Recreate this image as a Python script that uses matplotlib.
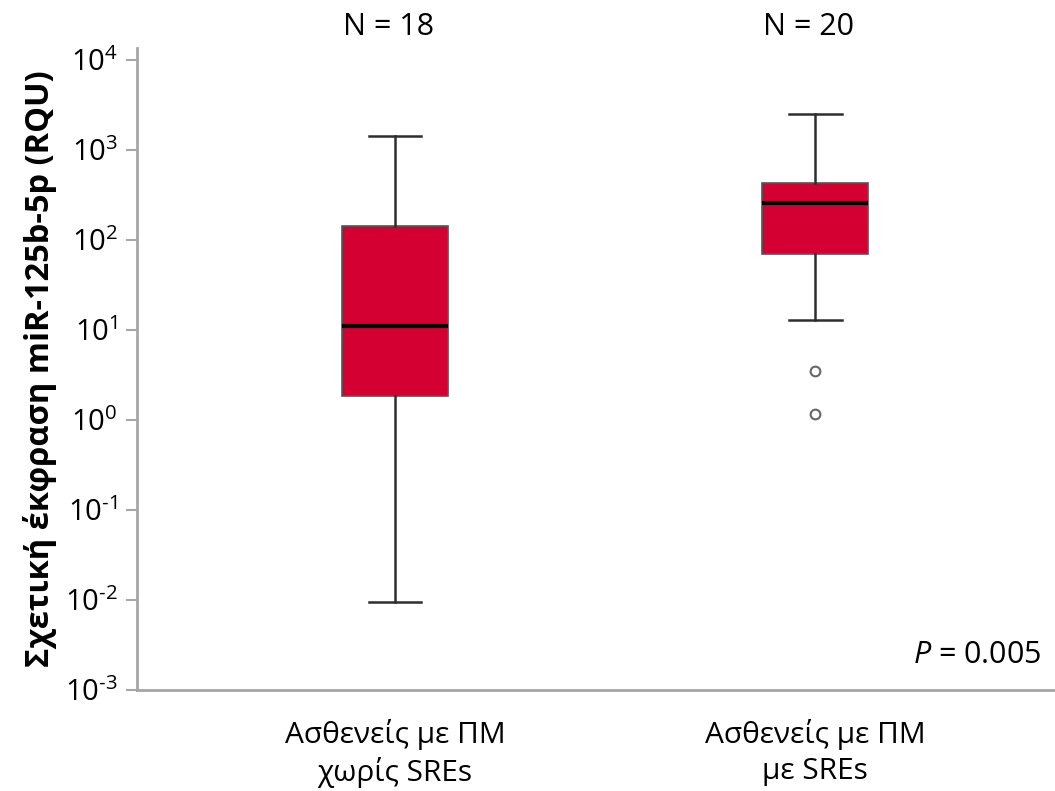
import numpy as np
import matplotlib.pyplot as plt
from matplotlib.ticker import FuncFormatter

plt.rcParams['font.family'] = ['Open Sans', 'DejaVu Sans']
plt.rcParams['mathtext.fontset'] = 'custom'
plt.rcParams['mathtext.rm'] = 'Open Sans'
plt.rcParams['mathtext.it'] = 'Open Sans:italic'

# box summaries (RQU), read group by group
groups = ['Ασθενείς με ΠΜ\nχωρίς SREs', 'Ασθενείς με ΠΜ\nμε SREs']
n_counts = [18, 20]
whisker_low = [0.0096, 12.7]
q1 = [1.85, 68.7]
medians = [11.1, 258]
q3 = [143, 430]
whisker_high = [1431, 2512]
outliers = [[], [3.53, 1.17]]
decades = list(range(-3, 5))
p_value = '0.005'

box_red = '#D50032'
edge_grey = '#2e2e2e'
spine_grey = '#a6a6a6'

stats = []
for i in range(len(groups)):
    stats.append({'whislo': whisker_low[i], 'q1': q1[i], 'med': medians[i],
                  'q3': q3[i], 'whishi': whisker_high[i], 'fliers': outliers[i]})


def decade_label(v, pos):
    # plain hyphen in the exponent rather than the long math minus
    e = int(round(np.log10(v)))
    exp = str(e).replace('-', '\\text{-}')
    return '$\\mathdefault{10^{%s}}$' % exp


fig = plt.figure(figsize=(10.55, 7.91), dpi=100)
ax = fig.add_axes([0.1299, 0.1277, 0.8701, 0.8116])

positions = [1, 2]
ax.bxp(stats, positions=positions, widths=0.252, patch_artist=True,
       boxprops=dict(facecolor=box_red, edgecolor='#555555', linewidth=1.2),
       medianprops=dict(color='black', linewidth=3),
       whiskerprops=dict(color=edge_grey, linewidth=1.8),
       capprops=dict(color=edge_grey, linewidth=1.8),
       capwidths=0.126,
       flierprops=dict(marker='o', markersize=7, markerfacecolor='white',
                       markeredgecolor='#666666', markeredgewidth=1.5))

ax.set_yscale('log')
ax.set_ylim(1e-3, 10 ** 4.13)
ax.set_xlim(0.386, 2.571)
ax.set_yticks([10.0 ** k for k in decades])
ax.yaxis.set_minor_locator(plt.NullLocator())
ax.yaxis.set_major_formatter(FuncFormatter(decade_label))

ax.set_xticks(positions)
ax.set_xticklabels(groups, fontsize=21.5, linespacing=1.3)
ax.tick_params(axis='x', length=0, pad=21)
ax.tick_params(axis='y', length=8, width=1.5, color=spine_grey,
               labelsize=21, pad=6)

for side in ['top', 'right']:
    ax.spines[side].set_visible(False)
for side in ['left', 'bottom']:
    ax.spines[side].set_color(spine_grey)
    ax.spines[side].set_linewidth(2)

ax.set_ylabel('Σχετική έκφραση miR-125b-5p (RQU)', fontsize=23.5,
              fontweight='bold', labelpad=6)

# group sizes above each box
for x, n in zip(positions, n_counts):
    ax.text(x - 0.015, 1.01, f'N = {n}', transform=ax.get_xaxis_transform(),
            ha='center', va='bottom', fontsize=22)

ax.text(0.985, 0.055, f'$P$ = {p_value}', transform=ax.transAxes,
        ha='right', va='center', fontsize=22)

fig.savefig('out.png', dpi=100)
